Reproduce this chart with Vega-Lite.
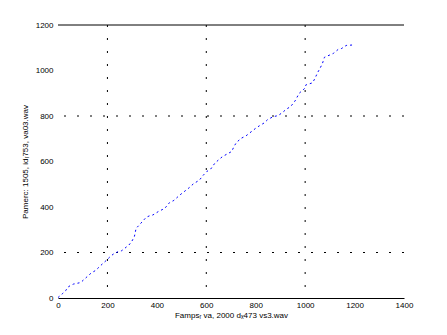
{
  "$schema": "https://vega.github.io/schema/vega-lite/v6.json",
  "width": 346,
  "height": 273,
  "autosize": {"type": "none"},
  "padding": {"left": 58, "top": 25, "right": 43, "bottom": 37},
  "background": "white",
  "config": {
    "view": {"stroke": null},
    "font": "Liberation Sans",
    "axis": {
      "labelFont": "Liberation Sans",
      "labelFontSize": 8,
      "labelColor": "black",
      "titleFont": "Liberation Sans",
      "titleFontSize": 8,
      "titleFontWeight": "normal",
      "titleColor": "black",
      "grid": false,
      "ticks": false
    }
  },
  "layer": [
    {
      "data": {"values": [{"x": 200}, {"x": 600}, {"x": 1000}]},
      "mark": {"type": "rule", "color": "black", "strokeWidth": 1, "strokeDash": [2, 11]},
      "encoding": {
        "x": {"field": "x", "type": "quantitative", "scale": {"domain": [0, 1400], "nice": false}}
      }
    },
    {
      "data": {"values": [{"y": 200}, {"y": 800}]},
      "mark": {"type": "rule", "color": "black", "strokeWidth": 1, "strokeDash": [2, 11]},
      "encoding": {
        "y": {"field": "y", "type": "quantitative", "scale": {"domain": [0, 1200], "nice": false}}
      }
    },
    {
      "data": {"values": [{"y": 1200}]},
      "mark": {"type": "rule", "color": "black", "strokeWidth": 1},
      "encoding": {
        "y": {"field": "y", "type": "quantitative"}
      }
    },
    {
      "data": {"values": [
        {"x": 0, "y": 2}, {"x": 17, "y": 18}, {"x": 31, "y": 32}, {"x": 39, "y": 47}, {"x": 49, "y": 54},
        {"x": 62, "y": 61}, {"x": 75, "y": 64}, {"x": 92, "y": 68}, {"x": 109, "y": 85}, {"x": 125, "y": 101},
        {"x": 136, "y": 111}, {"x": 152, "y": 121}, {"x": 174, "y": 144}, {"x": 187, "y": 157}, {"x": 201, "y": 171},
        {"x": 214, "y": 185}, {"x": 228, "y": 196}, {"x": 244, "y": 204}, {"x": 258, "y": 208}, {"x": 287, "y": 233},
        {"x": 298, "y": 248}, {"x": 309, "y": 270}, {"x": 316, "y": 306}, {"x": 329, "y": 321}, {"x": 357, "y": 355},
        {"x": 370, "y": 361}, {"x": 384, "y": 365}, {"x": 406, "y": 380}, {"x": 432, "y": 394}, {"x": 451, "y": 419},
        {"x": 469, "y": 429}, {"x": 490, "y": 450}, {"x": 531, "y": 485}, {"x": 548, "y": 502}, {"x": 572, "y": 518},
        {"x": 588, "y": 540}, {"x": 602, "y": 556}, {"x": 618, "y": 567}, {"x": 635, "y": 593}, {"x": 656, "y": 613},
        {"x": 666, "y": 622}, {"x": 703, "y": 644}, {"x": 712, "y": 666}, {"x": 723, "y": 685}, {"x": 743, "y": 703},
        {"x": 761, "y": 713}, {"x": 801, "y": 747}, {"x": 815, "y": 757}, {"x": 835, "y": 770}, {"x": 849, "y": 785},
        {"x": 871, "y": 797}, {"x": 891, "y": 802}, {"x": 909, "y": 816}, {"x": 925, "y": 831}, {"x": 941, "y": 841},
        {"x": 959, "y": 866}, {"x": 976, "y": 900}, {"x": 999, "y": 922}, {"x": 1002, "y": 936}, {"x": 1030, "y": 946},
        {"x": 1040, "y": 966}, {"x": 1051, "y": 992}, {"x": 1060, "y": 1009}, {"x": 1070, "y": 1031}, {"x": 1078, "y": 1058},
        {"x": 1114, "y": 1075}, {"x": 1134, "y": 1093}, {"x": 1148, "y": 1097}, {"x": 1166, "y": 1110}, {"x": 1190, "y": 1112},
        {"x": 1198, "y": 1120}
      ]},
      "mark": {"type": "line", "color": "#0000ff", "strokeWidth": 1, "strokeDash": [2, 3]},
      "encoding": {
        "x": {
          "field": "x", "type": "quantitative",
          "axis": {
            "title": "Famps\u1d63 va, 2000 d\u2093473 vs3.wav",
            "values": [0, 200, 400, 600, 800, 1000, 1200, 1400],
            "format": "d",
            "domain": true, "domainColor": "black", "domainWidth": 1,
            "labelPadding": 3, "titlePadding": 2, "labelFlush": false
          }
        },
        "y": {
          "field": "y", "type": "quantitative",
          "axis": {
            "title": "Pamerc: 1505, id\u1d63753, va03.wav",
            "values": [0, 200, 400, 600, 800, 1000, 1200],
            "format": "d",
            "domain": false,
            "labelPadding": 5, "titlePadding": 6, "labelFlush": false
          }
        }
      }
    }
  ]
}
